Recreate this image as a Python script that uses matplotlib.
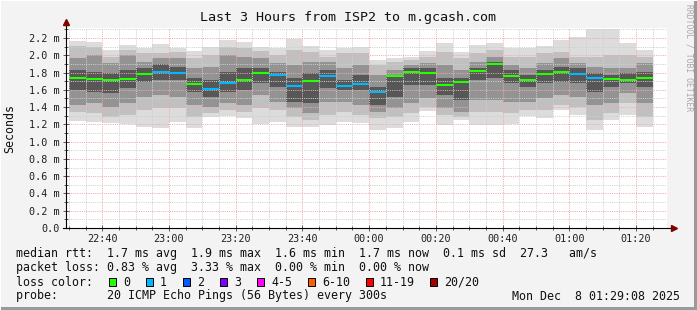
import matplotlib
matplotlib.use("Agg")
import matplotlib.pyplot as plt
import matplotlib.dates as mdates
from matplotlib.patches import Rectangle
import numpy as np
import pandas as pd

# ---------------- data (ms) ----------------
bar_end = pd.date_range("2025-12-07 22:35", periods=35, freq="5min")
smoke_max = [2.169, 2.158, 2.061, 2.119, 2.081, 2.131, 2.088, 2.050, 2.096, 2.177,
             2.150, 2.100, 2.088, 2.189, 2.104, 2.061, 2.088, 2.100, 1.946, 1.973,
             1.984, 2.050, 2.139, 2.042, 2.119, 2.139, 2.081, 2.088, 2.112, 2.177,
             2.216, 2.300, 2.300, 2.139, 2.061]
smoke_hi2 = [2.112, 2.100, 1.984, 2.061, 2.023, 2.023, 2.034, 1.965, 2.003, 2.100,
             2.081, 2.050, 2.003, 2.061, 2.042, 1.984, 2.023, 2.023, 1.888, 1.918,
             1.946, 1.984, 2.042, 1.965, 2.023, 2.061, 1.984, 1.984, 2.023, 2.042,
             1.984, 1.984, 2.003, 2.003, 1.984]
smoke_hi3 = [1.965, 2.003, 1.907, 2.003, 1.926, 1.965, 1.965, 1.849, 1.868, 2.003,
             1.984, 1.965, 1.907, 1.888, 1.926, 1.926, 1.849, 1.888, 1.772, 1.830,
             1.888, 1.907, 1.888, 1.830, 1.926, 1.984, 1.888, 1.849, 1.907, 1.965,
             1.907, 1.868, 1.849, 1.849, 1.907]
smoke_core_hi = [1.830, 1.810, 1.791, 1.830, 1.849, 1.895, 1.868, 1.733, 1.714, 1.810,
                 1.849, 1.849, 1.810, 1.733, 1.791, 1.830, 1.714, 1.772, 1.637, 1.772,
                 1.849, 1.849, 1.733, 1.733, 1.849, 1.926, 1.830, 1.772, 1.830, 1.868,
                 1.849, 1.791, 1.772, 1.791, 1.810]
median = [1.737, 1.725, 1.714, 1.725, 1.787, 1.810, 1.799, 1.671, 1.613, 1.683,
          1.714, 1.799, 1.775, 1.648, 1.706, 1.764, 1.648, 1.671, 1.578, 1.760,
          1.806, 1.791, 1.660, 1.694, 1.822, 1.895, 1.764, 1.714, 1.787, 1.810,
          1.787, 1.741, 1.729, 1.714, 1.741]
smoke_core_lo = [1.598, 1.579, 1.560, 1.617, 1.695, 1.714, 1.714, 1.579, 1.521, 1.579,
                 1.598, 1.675, 1.637, 1.463, 1.444, 1.617, 1.598, 1.598, 1.424, 1.521,
                 1.656, 1.656, 1.540, 1.482, 1.714, 1.733, 1.675, 1.637, 1.675, 1.695,
                 1.675, 1.579, 1.637, 1.675, 1.637]
smoke_lo3 = [1.424, 1.444, 1.405, 1.444, 1.521, 1.540, 1.521, 1.424, 1.405, 1.444,
             1.424, 1.540, 1.463, 1.386, 1.328, 1.463, 1.463, 1.424, 1.347, 1.386,
             1.444, 1.502, 1.386, 1.347, 1.482, 1.482, 1.463, 1.463, 1.502, 1.540,
             1.521, 1.424, 1.444, 1.560, 1.444]
smoke_lo2 = [1.347, 1.328, 1.289, 1.309, 1.367, 1.386, 1.386, 1.289, 1.328, 1.367,
             1.339, 1.386, 1.367, 1.289, 1.251, 1.309, 1.347, 1.309, 1.270, 1.289,
             1.328, 1.405, 1.309, 1.289, 1.347, 1.347, 1.328, 1.367, 1.367, 1.424,
             1.405, 1.251, 1.328, 1.444, 1.289]
smoke_min = [1.239, 1.232, 1.212, 1.201, 1.174, 1.154, 1.224, 1.154, 1.289, 1.301,
             1.270, 1.201, 1.232, 1.174, 1.174, 1.193, 1.224, 1.212, 1.135, 1.154,
             1.232, 1.355, 1.193, 1.251, 1.193, 1.193, 1.201, 1.301, 1.270, 1.367,
             1.309, 1.135, 1.251, 1.309, 1.174]
lost_pings = [0, 0, 0, 0, 0, 1, 1, 0, 1, 1,
              0, 0, 1, 1, 0, 1, 1, 1, 1, 0,
              0, 0, 0, 0, 0, 0, 0, 0, 0, 0,
              1, 1, 0, 0, 0]

loss_labels = ["0", "1", "2", "3", "4-5", "6-10", "11-19", "20/20"]
loss_colors = ["#26ff00", "#00b8ff", "#0059ff", "#7e00ff", "#ff00ff", "#ff5e00", "#ff0000", "#a10000"]

y_ticks = [0.0, 0.2, 0.4, 0.6, 0.8, 1.0, 1.2, 1.4, 1.6, 1.8, 2.0, 2.2]
y_tick_labels = ["0.0"] + [f"{v:.1f} m" for v in y_ticks[1:]]

title = "Last 3 Hours from ISP2 to m.gcash.com"
line_rtt = "median rtt:  1.7 ms avg  1.9 ms max  1.6 ms min  1.7 ms now  0.1 ms sd  27.3   am/s"
line_loss = "packet loss: 0.83 % avg  3.33 % max  0.00 % min  0.00 % now"
line_probe_l = "probe:       20 ICMP Echo Pings (56 Bytes) every 300s"
line_probe_r = "Mon Dec  8 01:29:08 2025"

# ---------------- figure ----------------
W, H = 697, 310
BG = "#f3f3f3"
MONO = "DejaVu Sans Mono"
fig = plt.figure(figsize=(W / 100, H / 100), dpi=100, facecolor=BG)


def fx(px):
    return px / W


def fy(py):
    return (H - py) / H


ax = fig.add_axes([fx(66), fy(228), fx(666.5) - fx(66), fy(28) - fy(228)])
ax.set_facecolor("white")

t_end = mdates.date2num(bar_end.to_pydatetime())
step = 5.0 / 1440.0
t_start = t_end - step

levels = [
    (smoke_min, smoke_max, "#dcdcdc"),
    (smoke_lo2, smoke_hi2, "#c0c0c0"),
    (smoke_lo3, smoke_hi3, "#939393"),
    (smoke_core_lo, smoke_core_hi, "#575757"),
]
for lo, hi, col in levels:
    lo = np.array(lo)
    hi = np.array(hi)
    ax.bar(t_start, hi - lo, bottom=lo, width=step, align="edge",
           color=col, linewidth=0, zorder=1, antialiased=False)

med = np.array(median)
med_cols = [loss_colors[n] for n in lost_pings]
ax.hlines(med, t_start, t_end, colors=med_cols, linewidth=1.5, zorder=3)

x0 = mdates.date2num(pd.Timestamp("2025-12-07 22:29:08").to_pydatetime())
x1 = mdates.date2num(pd.Timestamp("2025-12-08 01:29:08").to_pydatetime())
ax.set_xlim(x0, x1)
ax.set_ylim(0, 2.316)

ax.xaxis.set_major_locator(mdates.MinuteLocator(byminute=[0, 20, 40]))
ax.xaxis.set_minor_locator(mdates.MinuteLocator(byminute=range(0, 60, 5)))
ax.xaxis.set_major_formatter(mdates.DateFormatter("%H:%M"))
ax.set_yticks(y_ticks)
ax.set_yticklabels(y_tick_labels)
ax.set_yticks(np.arange(0.1, 2.31, 0.2), minor=True)

ax.set_axisbelow(False)
ax.grid(which="minor", color="#cfcfcf", linestyle=(0, (1, 1.2)), linewidth=0.72)
ax.grid(which="major", color="#f0aaaa", linestyle=(0, (1, 1.2)), linewidth=0.72)

for sp in ["top", "right", "left", "bottom"]:
    ax.spines[sp].set_visible(False)
# axis lines with arrows
ax.plot([0, 0], [0, 1.02], transform=ax.transAxes, color="black", lw=0.8, clip_on=False, zorder=5)
ax.plot([-0.005, 1.01], [0, 0], transform=ax.transAxes, color="black", lw=0.8, clip_on=False, zorder=5)
ax.plot([0], [1.03], marker="^", markersize=4.5, color="#7f0000", transform=ax.transAxes, clip_on=False, zorder=6)
ax.plot([1.012], [0], marker=">", markersize=4.5, color="#7f0000", transform=ax.transAxes, clip_on=False, zorder=6)

ax.tick_params(axis="both", which="both", direction="inout", color="#404040", width=0.6)
ax.tick_params(axis="both", which="major", length=4, labelsize=7.3, pad=2.5)
ax.tick_params(axis="both", which="minor", length=2.5)
for lab in ax.get_xticklabels() + ax.get_yticklabels():
    lab.set_fontfamily(MONO)
    lab.set_color("#202020")

# title and labels
fig.text(fx(348), fy(18), title, ha="center", va="center", fontsize=9.6, family=MONO, color="#101010")
fig.text(fx(10), fy(128), "Seconds", rotation=90, ha="center", va="center", fontsize=8.4, family=MONO, color="#101010")
fig.text(fx(689), fy(4), "RRDTOOL / TOBI OETIKER", rotation=270, ha="center", va="top",
         fontsize=5.8, family=MONO, color="#a8a8a8")

# legend text
fs = 8.4
fig.text(fx(16), fy(254), line_rtt, ha="left", va="center", fontsize=fs, family=MONO, color="#101010")
fig.text(fx(16), fy(268), line_loss, ha="left", va="center", fontsize=fs, family=MONO, color="#101010")
fig.text(fx(16), fy(282), "loss color:", ha="left", va="center", fontsize=fs, family=MONO, color="#101010")
fig.text(fx(16), fy(296), line_probe_l, ha="left", va="center", fontsize=fs, family=MONO, color="#101010")
fig.text(fx(680), fy(296), line_probe_r, ha="right", va="center", fontsize=fs, family=MONO, color="#101010")

box_x = [108.9, 145.8, 182.7, 219.6, 256.9, 307.6, 365.8, 429.8]
lab_x = [123, 160, 197, 234, 271, 322, 380, 444]
for bx, lx, lab, col in zip(box_x, lab_x, loss_labels, loss_colors):
    fig.add_artist(Rectangle((fx(bx), fy(286)), fx(7.5), 8 / H, facecolor=col,
                             edgecolor="black", linewidth=0.7, transform=fig.transFigure))
    fig.text(fx(lx), fy(282), lab, ha="left", va="center", fontsize=fs, family=MONO, color="#101010")

# 3d border
fig.add_artist(Rectangle((fx(694), 0), fx(3), 1, facecolor="#9a9a9a", edgecolor="none", transform=fig.transFigure))
fig.add_artist(Rectangle((0, 0), 1, 3 / H, facecolor="#9a9a9a", edgecolor="none", transform=fig.transFigure))
fig.add_artist(Rectangle((0, 0), fx(1), 1, facecolor="#ffffff", edgecolor="none", transform=fig.transFigure))
fig.add_artist(Rectangle((0, 1 - 1 / H), 1, 1 / H, facecolor="#ffffff", edgecolor="none", transform=fig.transFigure))

fig.savefig("out.png", dpi=100, facecolor=BG)
